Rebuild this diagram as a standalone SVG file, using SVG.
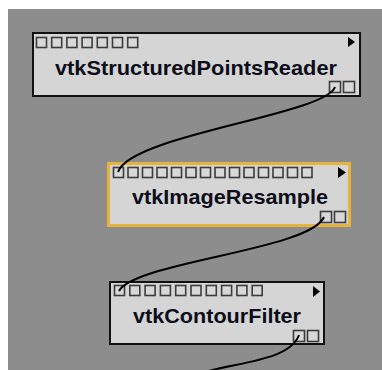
<svg xmlns="http://www.w3.org/2000/svg" width="382" height="370" viewBox="0 0 382 370">
<style>
.box{fill:#d5d5d5;stroke:#111;stroke-width:2}
.sel{stroke:#e6b43a;stroke-width:3}
.port{fill:#d8d8d8;stroke:#3c3c3c;stroke-width:1.6}
.tri{fill:#000}
.lbl{font-family:"Liberation Sans",Arial,sans-serif;font-weight:bold;font-size:20.5px;fill:#0d0d1a;text-anchor:middle}
.wire{fill:none;stroke:#000;stroke-width:2}
</style>
<rect x="0" y="0" width="382" height="370" fill="#ffffff"/>
<rect x="8" y="9" width="374" height="361" fill="#8d8d8d"/>
<g id="node-reader">
<rect class="box" x="33" y="33" width="327" height="63"/>
<g class="ports-in">
<rect class="port" x="36.5" y="37.5" width="10" height="10"/>
<rect class="port" x="51.7" y="37.5" width="10" height="10"/>
<rect class="port" x="66.9" y="37.5" width="10" height="10"/>
<rect class="port" x="82.1" y="37.5" width="10" height="10"/>
<rect class="port" x="97.3" y="37.5" width="10" height="10"/>
<rect class="port" x="112.5" y="37.5" width="10" height="10"/>
<rect class="port" x="127.7" y="37.5" width="10" height="10"/>
</g>
<polygon class="tri" points="348,37 355,42 348,47"/>
<text class="lbl" x="196" y="75" textLength="282" lengthAdjust="spacingAndGlyphs">vtkStructuredPointsReader</text>
<rect class="port" x="329.5" y="81.5" width="11" height="11"/>
<rect class="port" x="343.5" y="81.5" width="11" height="11"/>
</g>
<g id="node-resample">
<rect class="box sel" x="108.5" y="163.5" width="241" height="62"/>
<g class="ports-in">
<rect class="port" x="113.5" y="167.5" width="10" height="10"/>
<rect class="port" x="128" y="167.5" width="10" height="10"/>
<rect class="port" x="142.5" y="167.5" width="10" height="10"/>
<rect class="port" x="157" y="167.5" width="10" height="10"/>
<rect class="port" x="171.5" y="167.5" width="10" height="10"/>
<rect class="port" x="186" y="167.5" width="10" height="10"/>
<rect class="port" x="200.5" y="167.5" width="10" height="10"/>
<rect class="port" x="215" y="167.5" width="10" height="10"/>
<rect class="port" x="229.5" y="167.5" width="10" height="10"/>
<rect class="port" x="244" y="167.5" width="10" height="10"/>
<rect class="port" x="258.5" y="167.5" width="10" height="10"/>
<rect class="port" x="273" y="167.5" width="10" height="10"/>
<rect class="port" x="287.5" y="167.5" width="10" height="10"/>
<rect class="port" x="302" y="167.5" width="10" height="10"/>
</g>
<polygon class="tri" points="338,167 346,172.5 338,178"/>
<text class="lbl" x="230" y="204" textLength="196" lengthAdjust="spacingAndGlyphs">vtkImageResample</text>
<rect class="port" x="320.5" y="211.5" width="11" height="11"/>
<rect class="port" x="334.5" y="211.5" width="11" height="11"/>
</g>
<g id="node-contour">
<rect class="box" x="110" y="282" width="214" height="62"/>
<g class="ports-in">
<rect class="port" x="114.5" y="285.5" width="10" height="10"/>
<rect class="port" x="129.8" y="285.5" width="10" height="10"/>
<rect class="port" x="145.1" y="285.5" width="10" height="10"/>
<rect class="port" x="160.4" y="285.5" width="10" height="10"/>
<rect class="port" x="175.7" y="285.5" width="10" height="10"/>
<rect class="port" x="191" y="285.5" width="10" height="10"/>
<rect class="port" x="206.3" y="285.5" width="10" height="10"/>
<rect class="port" x="221.6" y="285.5" width="10" height="10"/>
<rect class="port" x="236.9" y="285.5" width="10" height="10"/>
<rect class="port" x="252.2" y="285.5" width="10" height="10"/>
</g>
<polygon class="tri" points="313,286 320,291.5 313,297"/>
<text class="lbl" x="217" y="323" textLength="168" lengthAdjust="spacingAndGlyphs">vtkContourFilter</text>
<rect class="port" x="293.5" y="330.5" width="11" height="11"/>
<rect class="port" x="307.5" y="330.5" width="11" height="11"/>
</g>
<g id="connectors">
<path class="wire" d="M335,87 C325,115 130,135 118,172"/>
<path class="wire" d="M324,217 C310,250 135,262 119,291"/>
<path class="wire" d="M299,335 C290,360 240,362 205,372"/>
</g>
</svg>
